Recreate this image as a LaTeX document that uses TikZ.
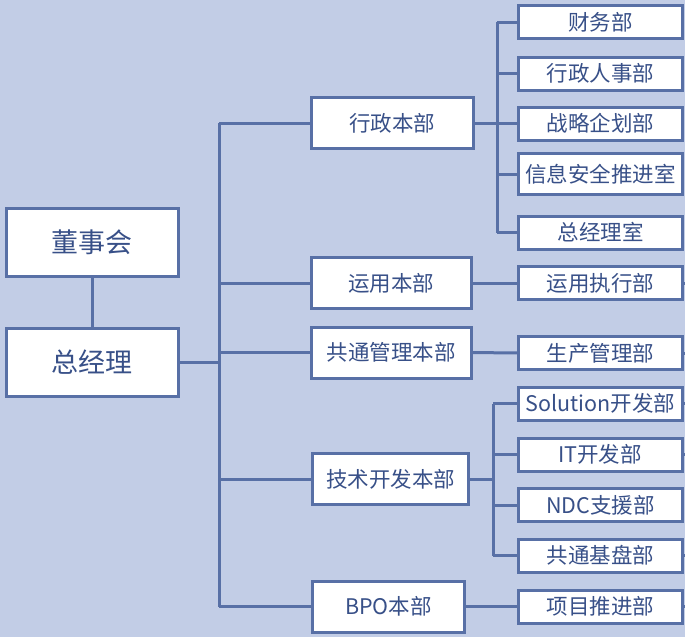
\documentclass[tikz,border=0pt]{standalone}
\usepackage{fontspec}
\setmainfont{Noto Sans CJK SC}
\usetikzlibrary{calc}
\definecolor{org_bg}{RGB}{194, 205, 230}
\definecolor{org_line}{RGB}{88, 112, 166}
\definecolor{org_text}{RGB}{56, 80, 136}
\tikzstyle{bigbox}=[rectangle,fill=white,draw=org_line,text=org_text,
  line width=3pt,inner sep=0pt,minimum width=172pt,minimum height=68pt,
  font=\fontsize{27}{27}\selectfont]
\tikzstyle{midbox}=[rectangle,fill=white,draw=org_line,text=org_text,
  line width=3pt,inner sep=0pt,minimum width=160pt,minimum height=51pt,
  font=\fontsize{21.5}{21.5}\selectfont]
\tikzstyle{depbox}=[rectangle,fill=white,draw=org_line,text=org_text,
  line width=3pt,inner sep=0pt,minimum width=164pt,minimum height=33pt,
  font=\fontsize{21.5}{21.5}\selectfont]
\tikzstyle{none}=[]

\begin{document}
\begin{tikzpicture}[x=1pt, y=-1pt, line width=3pt, org_line]
            \fill [org_bg] (0, 0) rectangle (685, 637);
            \useasboundingbox (0, 0) rectangle (685, 637);
            \node [style=bigbox] (0) at (92, 242.5) {董事会};
            \node [style=bigbox] (1) at (92, 362.5) {总经理};
            \node [style=midbox, minimum width=162pt] (2) at (392, 123) {行政本部};
            \node [style=midbox] (3) at (391, 283) {运用本部};
            \node [style=midbox] (4) at (391, 352.5) {共通管理本部};
            \node [style=midbox, minimum width=156pt] (5) at (390.5, 479) {技术开发本部};
            \node [style=midbox, minimum width=152pt] (6) at (388.5, 606.5) {BPO本部};
            \node [style=depbox] (7) at (600.5, 22) {财务部};
            \node [style=depbox] (8) at (600.5, 73.5) {行政人事部};
            \node [style=depbox] (9) at (600.5, 123.5) {战略企划部};
            \node [style=depbox, minimum height=41pt] (10) at (600.5, 174) {信息安全推进室};
            \node [style=depbox] (11) at (600.5, 232.5) {总经理室};
            \node [style=depbox] (12) at (600.5, 283) {运用执行部};
            \node [style=depbox] (13) at (600.5, 353) {生产管理部};
            \node [style=depbox] (14) at (600.5, 403.5) {Solution开发部};
            \node [style=depbox] (15) at (600, 454.5) {IT开发部};
            \node [style=depbox] (16) at (600.5, 505) {NDC支援部};
            \node [style=depbox] (17) at (600.5, 555.5) {共通基盘部};
            \node [style=depbox] (18) at (600.5, 606.5) {项目推进部};
            \node [style=none] (19) at (219, 123) {};
            \node [style=none] (20) at (219, 606.5) {};
            \node [style=none] (21) at (497, 22) {};
            \node [style=none] (22) at (497, 232.5) {};
            \node [style=none] (23) at (493, 403.5) {};
            \node [style=none] (24) at (493, 555.5) {};
            \node [style=none] (25) at (690, 283) {};
            \node [style=none] (26) at (690, 353) {};
            \node [style=none] (27) at (690, 403.5) {};
            \node [style=none] (28) at (690, 454.5) {};
            \node [style=none] (29) at (690, 555.5) {};
            \node [style=none] (30) at (690, 606.5) {};
            \draw (0) to (1);
            \draw (1) to (1 -| 19.center);
            \draw (19.center) to (20.center);
            \draw (19.center) to (2);
            \draw (19.center) |- (3);
            \draw (19.center) |- (4);
            \draw (19.center) |- (5);
            \draw (20.center) to (6);
            \draw (2) to (2 -| 21.center);
            \draw (21.center) to (22.center);
            \draw (21.center) to (7);
            \draw (21.center) |- (8);
            \draw (21.center) |- (9);
            \draw (21.center) |- (10);
            \draw (22.center) to (11);
            \draw (3) to (12);
            \draw (4) to (13);
            \draw (5) to (5 -| 23.center);
            \draw (23.center) to (24.center);
            \draw (23.center) to (14);
            \draw (23.center) |- (15);
            \draw (23.center) |- (16);
            \draw (24.center) to (17);
            \draw (6) to (18);
            \draw (12) to (25.center);
            \draw (13) to (26.center);
            \draw (14) to (27.center);
            \draw (15) to (28.center);
            \draw (17) to (29.center);
            \draw (18) to (30.center);
    \end{tikzpicture}
\end{document}
